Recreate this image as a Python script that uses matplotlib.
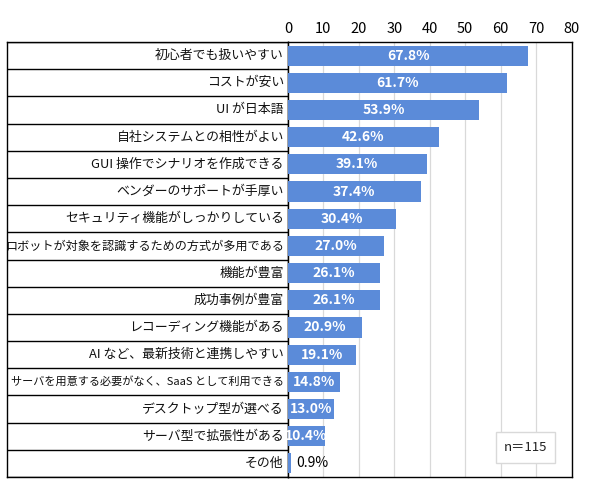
import matplotlib
matplotlib.use("Agg")
import matplotlib.pyplot as plt
from matplotlib.patches import Rectangle

plt.rcParams['font.family'] = ['Noto Sans CJK JP', 'DejaVu Sans']

categories = [
    "初心者でも扱いやすい",
    "コストが安い",
    "UI が日本語",
    "自社システムとの相性がよい",
    "GUI 操作でシナリオを作成できる",
    "ベンダーのサポートが手厚い",
    "セキュリティ機能がしっかりしている",
    "ロボットが対象を認識するための方式が多用である",
    "機能が豊富",
    "成功事例が豊富",
    "レコーディング機能がある",
    "AI など、最新技術と連携しやすい",
    "サーバを用意する必要がなく、SaaS として利用できる",
    "デスクトップ型が選べる",
    "サーバ型で拡張性がある",
    "その他",
]
values = [67.8, 61.7, 53.9, 42.6, 39.1, 37.4, 30.4, 27.0, 26.1, 26.1,
          20.9, 19.1, 14.8, 13.0, 10.4, 0.9]
xticks = [0, 10, 20, 30, 40, 50, 60, 70, 80]
note = "n＝115"

W, H = 590, 496
fig = plt.figure(figsize=(W / 100, H / 100), dpi=100)
fig.patch.set_facecolor("white")

bottom = 1 - 477 / H
height = (477 - 42) / H
tab = fig.add_axes([7 / W, bottom, (288 - 7) / W, height])
ax = fig.add_axes([288 / W, bottom, (571.5 - 288) / W, height], sharey=tab)

n = len(categories)
pos = list(range(n))
color = "#5b8bd9"

ax.barh(pos, values, height=0.74, color=color, zorder=3)
ax.set_xlim(0, 80)
ax.set_ylim(n - 0.5, -0.5)
ax.set_xticks(xticks)
ax.xaxis.tick_top()
ax.tick_params(axis='x', length=0, pad=4, labelsize=10.5, colors="#000000")
ax.tick_params(axis='y', left=False, labelleft=False)
ax.grid(axis='x', color="#d9d9d9", linewidth=0.9, zorder=0)
for s in ax.spines.values():
    s.set_color("black")
    s.set_linewidth(1.0)

for p, v in zip(pos, values):
    label = f"{v:.1f}%"
    if v < 5:
        ax.text(v + 1.3, p, label, ha='left', va='center', fontsize=10,
                color="black", zorder=4)
    else:
        ax.text(v / 2, p, label, ha='center', va='center', fontsize=10,
                fontweight='bold', color="white", zorder=4)

# category table
tab.set_xlim(0, 1)
tab.set_xticks([])
tab.tick_params(axis='y', left=False, labelleft=False)
for s in tab.spines.values():
    s.set_color("black")
    s.set_linewidth(1.0)
for k in range(n + 1):
    tab.axhline(k - 0.5, color="black", linewidth=1.0)
for p, c in zip(pos, categories):
    if "SaaS" in c:
        fs = 8.0
    elif len(c) > 20:
        fs = 8.75
    else:
        fs = 9.3
    tab.text(0.985, p, c, ha='right', va='center', fontsize=fs, color="#111111")

# note box
ax.add_patch(Rectangle((0.734, 0.032), 0.208, 0.071, transform=ax.transAxes,
                       facecolor="white", edgecolor="#d9d9d9", linewidth=1.0,
                       zorder=5))
ax.text(0.838, 0.068, note, transform=ax.transAxes, ha='center', va='center',
        fontsize=9.5, color="#222222", zorder=6)

fig.savefig("out.png", dpi=100, facecolor="white")
